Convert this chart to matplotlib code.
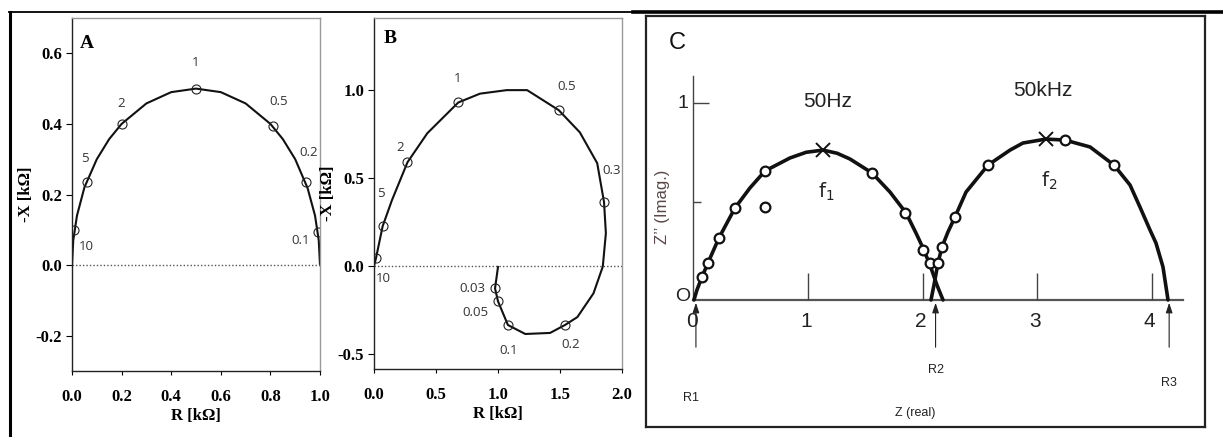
import matplotlib
matplotlib.use('Agg')
import matplotlib.pyplot as plt
from matplotlib.lines import Line2D

# --- panel A: single RC semicircle ---
a_curve_r = [0, 0.005, 0.02, 0.05, 0.1, 0.15, 0.2, 0.3, 0.4, 0.5, 0.6, 0.7, 0.8, 0.85, 0.9, 0.95, 0.98, 0.995, 1.0]
a_curve_x = [0, 0.07, 0.14, 0.22, 0.30, 0.357, 0.40, 0.458, 0.49, 0.50, 0.49, 0.458, 0.40, 0.357, 0.30, 0.218, 0.14, 0.07, 0]
a_freq = ['10', '5', '2', '1', '0.5', '0.2', '0.1']
a_pts_r = [0.01, 0.06, 0.2, 0.5, 0.81, 0.945, 0.99]
a_pts_x = [0.10, 0.235, 0.40, 0.50, 0.395, 0.235, 0.095]

# --- panel B: spiral ---
b_curve_r = [0, 0.016, 0.07, 0.145, 0.27, 0.43, 0.68, 0.855, 1.07, 1.235, 1.49, 1.66, 1.8, 1.855,
             1.87, 1.845, 1.77, 1.64, 1.54, 1.42, 1.22, 1.08, 1.0, 0.976, 1.0]
b_curve_x = [0, 0.045, 0.227, 0.375, 0.59, 0.755, 0.93, 0.98, 1.0, 1.0, 0.886, 0.76, 0.585, 0.364,
             0.187, -0.003, -0.155, -0.29, -0.335, -0.38, -0.386, -0.335, -0.2, -0.127, -0.005]
b_freq = ['10', '5', '2', '1', '0.5', '0.3', '0.2', '0.1', '0.05', '0.03']
b_pts_r = [0.016, 0.07, 0.27, 0.68, 1.49, 1.855, 1.54, 1.08, 1.0, 0.976]
b_pts_x = [0.045, 0.227, 0.59, 0.93, 0.886, 0.364, -0.335, -0.335, -0.2, -0.127]

# --- panel C: two arcs ---
c_left_re = [0, 0.026, 0.070, 0.122, 0.218, 0.358, 0.489, 0.620, 0.838, 0.98, 1.127, 1.25, 1.362, 1.555,
             1.712, 1.852, 1.939, 2.0, 2.061, 2.122, 2.175]
c_left_im = [0, 0.051, 0.117, 0.188, 0.315, 0.467, 0.569, 0.655, 0.721, 0.750, 0.761, 0.745, 0.716, 0.645,
             0.548, 0.442, 0.340, 0.264, 0.178, 0.076, 0]
c_right_re = [2.07, 2.096, 2.131, 2.166, 2.218, 2.279, 2.376, 2.568, 2.760, 2.873, 3.074, 3.240,
              3.459, 3.668, 3.808, 3.895, 3.983, 4.035, 4.096, 4.140]
c_right_im = [0, 0.076, 0.188, 0.269, 0.345, 0.421, 0.548, 0.685, 0.761, 0.797, 0.817, 0.812,
              0.777, 0.685, 0.584, 0.472, 0.355, 0.289, 0.168, 0]
c_pts_re = [0.070, 0.122, 0.218, 0.358, 0.620, 0.62, 1.555, 1.843, 2.0, 2.061,
            2.131, 2.166, 2.279, 2.568, 3.240, 3.668]
c_pts_im = [0.117, 0.188, 0.315, 0.467, 0.655, 0.472, 0.645, 0.442, 0.254, 0.188,
            0.188, 0.269, 0.421, 0.685, 0.812, 0.685]
c_peak_re = [1.127, 3.074]
c_peak_im = [0.761, 0.817]
c_peak_freq = ['50Hz', '50kHz']
c_peak_name = [r'$\mathsf{f}_{1}$', r'$\mathsf{f}_{2}$']
c_xticks = [0, 1, 2, 3, 4]
c_r_names = ['R1', 'R2', 'R3']
c_r_pos = [0.017, 2.11, 4.15]

serif = 'Liberation Serif'
sans = 'Open Sans'

fig = plt.figure(figsize=(12.23, 4.37), dpi=100)


def style_ab(ax):
    for s in ['left', 'bottom']:
        ax.spines[s].set_color('#222')
        ax.spines[s].set_linewidth(1.0)
    for s in ['top', 'right']:
        ax.spines[s].set_color('#999')
        ax.spines[s].set_linewidth(1.0)
    ax.tick_params(axis='y', direction='out', length=4, width=0.8, pad=3, labelsize=12)
    ax.tick_params(axis='x', direction='out', length=3, width=0.8, pad=10, labelsize=12)
    for lab in ax.get_xticklabels() + ax.get_yticklabels():
        lab.set_fontfamily(serif)
        lab.set_fontweight('bold')
    ax.set_xlabel('R [kΩ]', fontfamily=serif, fontweight='bold', fontsize=12, labelpad=2)
    ax.set_ylabel('-X [kΩ]', fontfamily=serif, fontweight='bold', fontsize=12)
    ax.yaxis.set_label_coords(-0.155, 0.5)
    ax.axhline(0, color='#555', lw=1, ls=(0, (1, 1.5)))


# Panel A
axa = fig.add_axes([72 / 1223, 1 - 371 / 437, 248 / 1223, 353 / 437])
axa.plot(a_curve_r, a_curve_x, color='#111', lw=1.5)
axa.plot(a_pts_r, a_pts_x, 'o', ms=6.5, mfc='none', mec='#222', mew=0.8)
a_offs = [(8.6, -12), (-1.4, 17), (-0.7, 14.4), (0, 18.7), (4.3, 17.3), (1.4, 21.6), (-12.2, -6.5)]
for f, r, x, o in zip(a_freq, a_pts_r, a_pts_x, a_offs):
    axa.annotate(f, (r, x), xytext=o, textcoords='offset points', ha='center', va='center',
                 fontsize=9.5, family=sans, color='#333')
axa.set_xlim(0, 1)
axa.set_ylim(-0.3, 0.7)
axa.set_xticks([0, 0.2, 0.4, 0.6, 0.8, 1.0])
axa.set_yticks([-0.2, 0, 0.2, 0.4, 0.6])
axa.set_xticklabels(['0.0', '0.2', '0.4', '0.6', '0.8', '1.0'])
axa.set_yticklabels(['-0.2', '0.0', '0.2', '0.4', '0.6'])
style_ab(axa)
axa.text(0.06, 0.628, 'A', fontfamily=serif, fontweight='bold', fontsize=14, ha='center', va='center')

# Panel B
axb = fig.add_axes([374 / 1223, 1 - 369 / 437, 248 / 1223, 351 / 437])
axb.plot(b_curve_r, b_curve_x, color='#111', lw=1.5)
axb.plot(b_pts_r, b_pts_x, 'o', ms=6.5, mfc='none', mec='#222', mew=0.8)
b_offs = [(5, -14.4), (-1.4, 23.8), (-5, 10.8), (-0.7, 17.3), (5.8, 17.3), (5.8, 23),
          (4.3, -13.7), (0.7, -18), (-16.6, -7.9), (-16.6, 0)]
for f, r, x, o in zip(b_freq, b_pts_r, b_pts_x, b_offs):
    axb.annotate(f, (r, x), xytext=o, textcoords='offset points', ha='center', va='center',
                 fontsize=9.5, family=sans, color='#333')
axb.set_xlim(0, 2)
axb.set_ylim(-0.585, 1.41)
axb.set_xticks([0, 0.5, 1.0, 1.5, 2.0])
axb.set_yticks([-0.5, 0, 0.5, 1.0])
axb.set_xticklabels(['0.0', '0.5', '1.0', '1.5', '2.0'])
axb.set_yticklabels(['-0.5', '0.0', '0.5', '1.0'])
style_ab(axb)
axb.text(0.13, 1.295, 'B', fontfamily=serif, fontweight='bold', fontsize=14, ha='center', va='center')

# Panel C
axc = fig.add_axes([646 / 1223, 10 / 437, 559 / 1223, 411 / 437])
axc.set_xlim(-0.419, 4.463)
axc.set_ylim(-0.645, 1.442)
axc.set_xticks([])
axc.set_yticks([])
for s in axc.spines.values():
    s.set_color('#222')
    s.set_linewidth(1.6)
# axes of the sketch
axc.plot([-0.01, 4.27], [0, 0], color='#555', lw=1.6)
axc.plot([-0.01, -0.01], [0, 1.137], color='#444', lw=1.0)
axc.vlines(c_xticks[1:], 0, 0.137, color='#444', lw=1.0)
axc.hlines([1.0, 0.5], -0.01, [0.13, 0.06], color='#444', lw=1.0)
axc.plot(c_left_re, c_left_im, color='#111', lw=2.6, solid_capstyle='round', solid_joinstyle='round')
axc.plot(c_right_re, c_right_im, color='#111', lw=2.6, solid_capstyle='round', solid_joinstyle='round')
axc.plot(c_pts_re, c_pts_im, 'o', ms=7, mfc='white', mec='#111', mew=1.6)
axc.plot(c_peak_re, c_peak_im, 'x', ms=10, mec='#111', mew=1.4)
for r, i, f, n in zip(c_peak_re, c_peak_im, c_peak_freq, c_peak_name):
    axc.annotate(f, (r, i), xytext=(-2 if f == '50kHz' else 3, 35), textcoords='offset points',
                 ha='center', va='center', fontsize=15, family='Liberation Sans', color='#222')
    axc.annotate(n, (r, i), xytext=(2, -30), textcoords='offset points',
                 ha='center', va='center', fontsize=14, color='#222')
for t in c_xticks:
    axc.text(t - 0.02, -0.11, str(t), ha='center', va='center', fontsize=15,
             family='Liberation Sans', color='#222')
axc.text(-0.096, 1.0, '1', ha='center', va='center', fontsize=14, family='Liberation Sans', color='#222')
axc.text(-0.096, 0.02, 'O', ha='center', va='center', fontsize=14, family='Liberation Sans', color='#222')
r_lab_y = [-0.497, -0.355, -0.421]
for n, p, ly in zip(c_r_names, c_r_pos, r_lab_y):
    axc.annotate('', xy=(p, 0), xytext=(p, -0.254),
                 arrowprops=dict(arrowstyle='-|>,head_length=0.6,head_width=0.2', color='#222', lw=0.8))
    axc.text(p - 0.04 if n == 'R1' else p, ly, n, ha='center', va='center', fontsize=9,
             family='Liberation Sans', color='#222')
axc.text(1.93, -0.574, 'Z (real)', ha='center', va='center', fontsize=9,
         family='Liberation Sans', color='#222')
axc.text(-0.279, 0.472, 'Z’’ (Imag.)', rotation=90, ha='center', va='center', fontsize=12,
         family='Liberation Sans', color='#5a4848')
axc.text(-0.148, 1.305, 'C', ha='center', va='center', fontsize=17,
         family='Liberation Sans', color='#111')

# table-like frame around the panels
fig.add_artist(Line2D([9 / 1223, 633 / 1223], [1 - 12 / 437] * 2, color='black', lw=1.3))
fig.add_artist(Line2D([633 / 1223, 1.0], [1 - 12 / 437] * 2, color='black', lw=2.6))
fig.add_artist(Line2D([10 / 1223] * 2, [0, 1 - 12 / 437], color='black', lw=2.2))

fig.savefig('out.png', dpi=100)
